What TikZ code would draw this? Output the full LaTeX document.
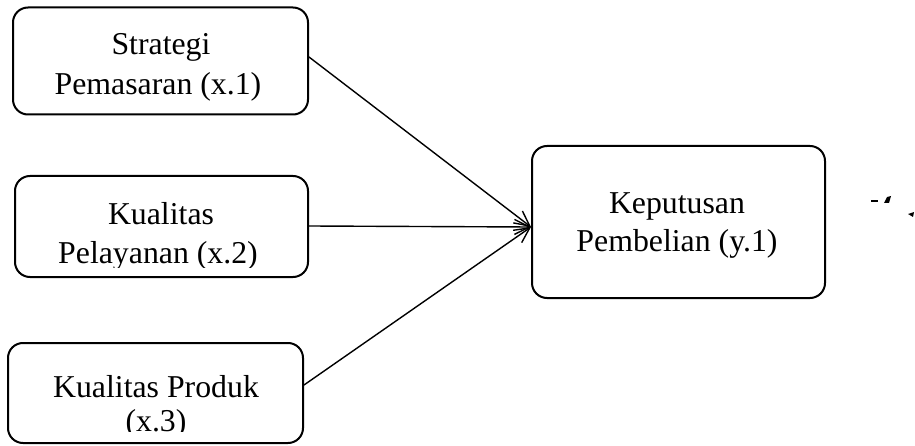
\documentclass[tikz,border=0pt]{standalone}
\usepackage{fontspec}
\setmainfont{Liberation Serif}
\usetikzlibrary{arrows.meta}
\begin{document}
\begin{tikzpicture}[x=1pt,y=-1pt,
  box/.style={draw,line width=2pt,rounded corners=15pt,inner sep=0pt},
  lbl/.style={font=\fontsize{31.8}{40}\selectfont,align=center,inner sep=0pt,anchor=base},
  conn/.style={line width=1.4pt,-{Straight Barb[length=15pt,width=15pt,line width=1.4pt]}}]
\useasboundingbox (0,0) rectangle (915,446);
% boxes
\node[box,minimum width=295pt,minimum height=107pt] (b1) at (160.5,61) {};
\node[box,minimum width=293pt,minimum height=101pt] (b2) at (161.5,226.5) {};
\node[box,minimum width=295pt,minimum height=100pt] (b3) at (155.5,393) {};
\node[box,minimum width=293pt,minimum height=152pt] (b4) at (678.5,222) {};
% texts
\node[lbl] (t1a) at (161,55) {Strategi};
\node[lbl] (t1b) at (158,95) {Pemasaran (x.1)};
\begin{scope}
\clip (10,170) rectangle (310,268);
\node[lbl] (t2a) at (161,225) {Kualitas};
\node[lbl] (t2b) at (158,263) {Pelayanan (x.2)};
\end{scope}
\begin{scope}
\clip (5,340) rectangle (305,431);
\node[lbl] (t3a) at (156,397) {Kualitas Produk};
\node[lbl] (t3b) at (156,431) {(x.3)};
\end{scope}
\node[lbl] (t4a) at (677,214) {Keputusan};
\node[lbl] (t4b) at (677,252) {Pembelian (y.1)};
% connectors
\coordinate (tip) at (531,227);
\draw[conn] (b1.east|-0,57) -- (tip);
\draw[conn] (b2.east|-0,226) -- (tip);
\draw[conn] (b3.east|-0,385) -- (tip);
% clipped fragments at the right edge
\draw[line width=2pt] (871,201.5) -- (878,201.5);
\fill (884,203) -- (887,197) -- (891,196) -- (889,203) -- cycle;
\fill (908,214) -- (914,212) -- (913,217) -- cycle;
\end{tikzpicture}
\end{document}
